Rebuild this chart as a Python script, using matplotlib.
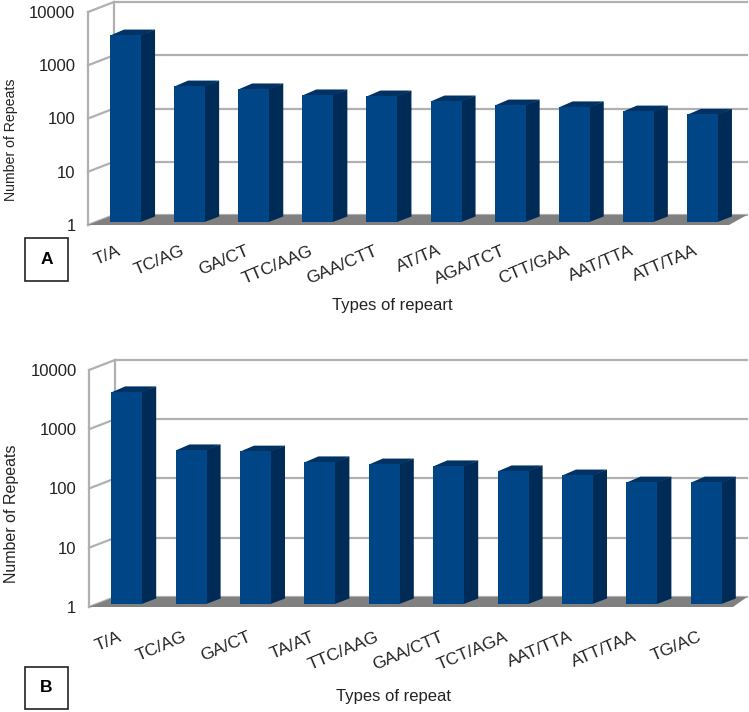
#!/usr/bin/env python3
"""Two pseudo-3D log bar charts of repeat counts (panels A and B)."""

import matplotlib
matplotlib.use("Agg")
import matplotlib.pyplot as plt
from matplotlib.lines import Line2D
from matplotlib.patches import Polygon, Rectangle
from matplotlib.transforms import Affine2D, IdentityTransform

W, H = 749, 712

labels_a = ["T/A", "TC/AG", "GA/CT", "TTC/AAG", "GAA/CTT", "AT/TA", "AGA/TCT", "CTT/GAA", "AAT/TTA", "ATT/TAA"]
values_a = [3240, 357, 315, 243, 232, 187, 157, 145, 121, 105]

labels_b = ["T/A", "TC/AG", "GA/CT", "TA/AT", "TTC/AAG", "GAA/CTT", "TCT/AGA", "AAT/TTA", "ATT/TAA", "TG/AC"]
values_b = [3800, 398, 380, 250, 230, 214, 176, 150, 114, 114]

y_ticks = [1, 10, 100, 1000, 10000]
y_tick_labels = ["1", "10", "100", "1000", "10000"]

FRONT = "#004586"
SIDE = "#002b57"
TOP = "#003263"
WALL = "#b0b0b0"
FLOOR = "#808080"
TEXT = "#222222"
BACK_RIGHT = 747

plt.rcParams["font.family"] = ["Liberation Sans", "DejaVu Sans"]


def draw_panel(fig, box, labels, values, xpad, ylabel, xlabel, ylabel_pos, xlabel_pos, ylabel_size, letter, letter_box):
    left, right, top, bottom = box
    ax = fig.add_axes([left / W, 1 - bottom / H, (right - left) / W, (bottom - top) / H])
    ax.set_yscale("log")
    ax.set_xlim(0, len(labels))
    ax.set_ylim(1, 10000)
    ax.patch.set_visible(False)
    for spine in ax.spines.values():
        spine.set_visible(False)

    to_px = ax.transData.transform
    identity = IdentityTransform()

    def poly(points, color, z):
        ax.add_patch(Polygon(points, closed=True, facecolor=color, edgecolor="none",
                             transform=identity, clip_on=False, zorder=z))

    def line(p0, p1, z=1):
        ax.add_line(Line2D([p0[0], p1[0]], [p0[1], p1[1]], color=WALL, lw=1.6,
                           transform=identity, clip_on=False, zorder=z))

    n = len(labels)
    # back wall is narrower on the right, the fake perspective of the original
    for tick in y_ticks:
        x0, y0 = to_px((0, tick))
        line((x0, y0), (x0 + 26, y0 + 10))
        line((x0 + 26, y0 + 10), (BACK_RIGHT, y0 + 10))
    x0, y0 = to_px((0, 1))
    x1, y1 = to_px((n, 1))
    _, ytop = to_px((0, 10000))
    line((x0, y0), (x0, ytop))
    line((x0 + 26, y0 + 10), (x0 + 26, ytop + 10))
    poly([(x0, y0), (x1, y1), (BACK_RIGHT, y1 + 10), (x0 + 26, y0 + 10)], FLOOR, 2)

    # bars: front face position from the axes scale, side and top faces offset in pixels
    for i, v in enumerate(values):
        (fx0, fy0), (fx1, fy1) = to_px((i + 0.5, 1)), to_px((i + 0.5, v))
        bx0, bx1 = fx0 + 5.5 - 15.5, fx0 + 5.5 + 15.5
        by0, by1 = fy0 + 3, fy1 + 3
        dx, dy = 14, 5.5
        poly([(bx1 - 0.5, by0), (bx1 + dx, by0 + dy), (bx1 + dx, by1 + dy), (bx1 - 0.5, by1)], SIDE, 3)
        poly([(bx0, by1 - 0.5), (bx1, by1 - 0.5), (bx1 + dx, by1 + dy), (bx0 + dx, by1 + dy)], TOP, 3)
        poly([(bx0, by0), (bx1, by0), (bx1, by1), (bx0, by1)], FRONT, 4)

    ax.set_yticks(y_ticks)
    ax.set_yticklabels(y_tick_labels, fontsize=12, color=TEXT)
    ax.minorticks_off()
    ax.tick_params(axis="y", length=0, pad=9)
    ax.set_xticks([i + 0.5 for i in range(n)])
    ax.set_xticklabels(labels, fontsize=12.5, color=TEXT, rotation=23, ha="right", rotation_mode="anchor")
    ax.tick_params(axis="x", length=0, pad=xpad)
    for lab in ax.get_xticklabels():
        lab.set_transform(lab.get_transform() + Affine2D().translate(-3, 0))

    fig.text(ylabel_pos[0] / W, 1 - ylabel_pos[1] / H, ylabel, rotation=90, ha="center", va="center",
             fontsize=ylabel_size, color=TEXT)
    fig.text(xlabel_pos[0] / W, 1 - xlabel_pos[1] / H, xlabel, ha="center", va="center",
             fontsize=12, color=TEXT)

    bl, bt, br, bb = letter_box
    fig.add_artist(Rectangle((bl / W, 1 - bb / H), (br - bl) / W, (bb - bt) / H, transform=fig.transFigure,
                             facecolor="white", edgecolor="#222222", lw=1.2))
    fig.text((bl + br) / 2 / W, 1 - (bt + bb) / 2 / H, letter, ha="center", va="center",
             fontsize=12.5, fontweight="bold", color="black")


def main():
    fig = plt.figure(figsize=(W / 100, H / 100), dpi=100, facecolor="white")
    draw_panel(fig, (88, 729, 12, 225), labels_a, values_a, 13, "Number of Repeats", "Types of repeart",
               (11, 140), (392, 305), 10.2, "A", (25, 238, 68, 281))
    draw_panel(fig, (89, 733, 370, 607), labels_b, values_b, 16, "Number of Repeats", "Types of repeat",
               (12, 514), (393, 696), 11.5, "B", (25, 667, 68, 709))
    fig.savefig("out.png", dpi=100)
    plt.close(fig)


if __name__ == "__main__":
    main()
